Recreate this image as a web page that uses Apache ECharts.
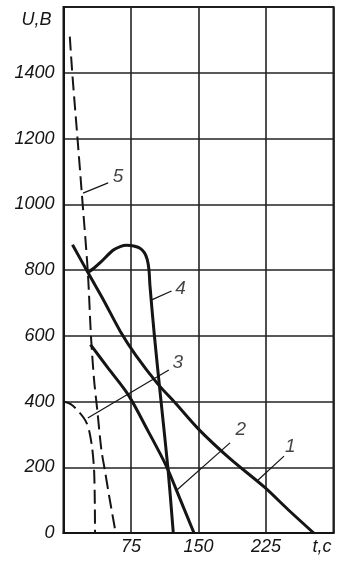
<!DOCTYPE html>
<html>
<head>
<meta charset="utf-8">
<script src="https://cdn.jsdelivr.net/npm/echarts@6/dist/echarts.min.js"></script>
<style>
html,body{margin:0;padding:0;background:#fff;}
#chart{width:354px;height:562px;}
</style>
</head>
<body>
<div id="chart"></div>
<script>
// Axis ranges / ticks
const tMin = 0, tMax = 300, tStep = 75;
const uMin = 0, uMax = 1600, uStep = 200;
const xAxisName = 't,c';
const yAxisName = 'U,B';

// Curves: [t (s), U (V)]
const curve1 = [[10,877],[27,793],[45,706],[63,614],[80,542],[104,456],[125,393],[150,316],[185,226],[223,140],[250,70],[278,0]];
const curve2 = [[30,573],[50,500],[72,420],[94,310],[114,205],[130,100],[145,0]];
const curve3 = [[0,400],[8,392],[16,372],[22,352],[26,333],[29,305],[32,255],[34,190],[34.8,90],[35,0]];
const curve4 = [[27,792],[34,806],[41,823],[55,860],[63,871],[70,875],[78,873],[85,866],[90,852],[93,832],[95,800],[96,755],[101,600],[108,410],[116,198],[122,0]];
const curve5 = [[7,1510],[10,1390],[16,1185],[20,1045],[27,795],[30.5,600],[34,465],[37.5,375],[42,255],[46,190],[51,108],[58,0]];

// Label leaders: [from, to] and label anchor
const leaderNames = ['1','2','3','4','5'];
const leaderLines = [
  [[215,158],[245,234]],
  [[126,131],[185,274]],
  [[27,350],[117,496]],
  [[98,709],[120,736]],
  [[21.7,1034],[49.6,1065]]
];
const leaderLabels = [[252,262],[197,313],[127,517],[130,742],[60.5,1083]];

const ink = '#151515';
const fontFam = '"Liberation Sans", Arial, sans-serif';

const curveSeries = (data, dashed) => ({
  type: 'line', data: data, showSymbol: false, symbol: 'none', smooth: 0.3,
  lineStyle: {color: ink, width: dashed ? 2 : 3, type: dashed ? [14,6] : 'solid', cap: 'butt'},
  silent: true, z: 3
});

const series = [
  curveSeries(curve1, false),
  curveSeries(curve2, false),
  curveSeries(curve3, true),
  curveSeries(curve4, false),
  curveSeries(curve5, true)
];
leaderLines.forEach(seg => {
  series.push({type:'line', data: seg, showSymbol:false, symbol:'none',
    lineStyle:{color: ink, width: 1.2}, silent:true, z:3});
});
series.push({
  type:'scatter', symbolSize: 0, silent: true, z: 4,
  data: leaderLabels.map((p,i)=>({value:p, name: leaderNames[i]})),
  label:{show:true, position:'inside', formatter: p => p.name,
    fontSize: 19, fontStyle:'italic', color: ink, fontFamily: fontFam}
});

const chart = echarts.init(document.getElementById('chart'), null, {renderer:'canvas'});
chart.setOption({
  animation: false,
  backgroundColor: '#fff',
  grid: {left: 63.5, right: 20.5, top: 7, bottom: 29, show: true, borderColor: ink, borderWidth: 2, containLabel: false},
  xAxis: {
    type: 'value', min: tMin, max: tMax, interval: tStep,
    axisLine: {show: true, lineStyle: {color: ink, width: 2}},
    axisTick: {show: false},
    splitLine: {show: true, lineStyle: {color: '#222', width: 1.6}},
    axisLabel: {
      margin: 5, fontSize: 18, fontStyle: 'italic', color: ink, fontFamily: fontFam,
      formatter: v => v === tMin ? '' : (v === tMax ? '{n|' + xAxisName + '}' : String(v)),
      rich: {n: {fontSize: 18, fontStyle: 'italic', color: ink, fontFamily: fontFam, padding: [0, 23, 0, 0]}}
    }
  },
  yAxis: {
    type: 'value', min: uMin, max: uMax, interval: uStep,
    axisLine: {show: true, lineStyle: {color: ink, width: 2}},
    axisTick: {show: false},
    splitLine: {show: true, lineStyle: {color: '#222', width: 1.6}},
    axisLabel: {
      margin: 9, fontSize: 18, fontStyle: 'italic', color: ink, fontFamily: fontFam,
      formatter: v => v === uMax ? '{n|' + yAxisName + '}' : String(v),
      rich: {n: {fontSize: 18, fontStyle: 'italic', color: ink, fontFamily: fontFam, padding: [26, 3, 0, 0]}}
    }
  },
  series: series
});
</script>
</body>
</html>
